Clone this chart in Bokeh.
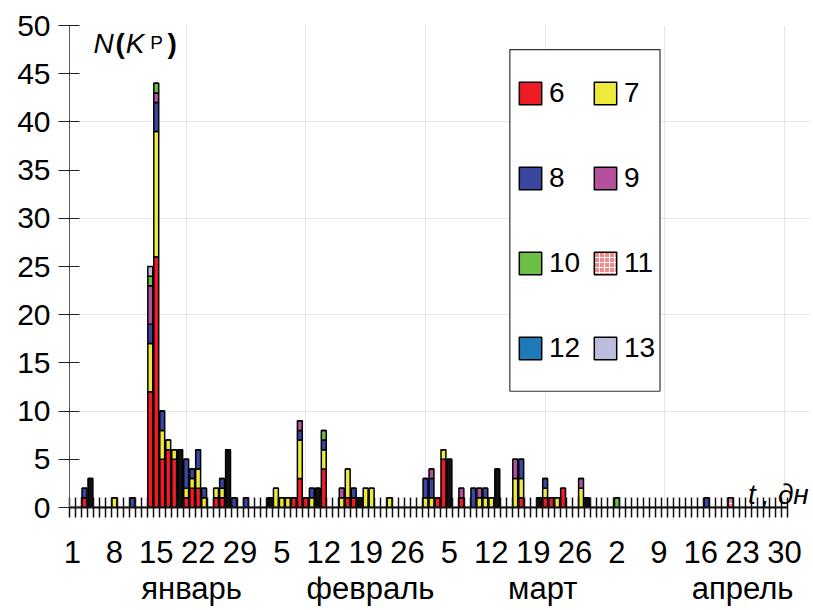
from bokeh.plotting import figure
from bokeh.models import (Range1d, FixedTicker, LinearAxis, Legend, LegendItem,
                          BoxAnnotation, Label, ColumnDataSource, CDSView, IndexFilter)
from bokeh.transform import stack
from bokeh.embed import file_html
from bokeh.resources import INLINE

# ---------------- data ----------------
days = list(range(1, 121))          # 1 Jan .. 30 Apr
tick_days = [1, 8, 15, 22, 29, 36, 43, 50, 57, 64, 71, 78, 85, 92, 99, 106, 113, 120]
tick_labels = ["1", "8", "15", "22", "29", "5", "12", "19", "26",
               "5", "12", "19", "26", "2", "9", "16", "23", "30"]
months = ["январь", "февраль", "март", "апрель"]
month_pos = [20.9, 50.8, 79.6, 113.0]

kp_levels = ["6", "7", "8", "9", "10", "11", "12", "13"]
kp6 = {3: 1, 14: 12, 15: 26, 16: 5, 17: 6, 18: 5, 20: 1, 21: 2, 22: 2, 25: 1, 26: 1,
       38: 1, 39: 3, 40: 1, 43: 4, 47: 1, 48: 1, 62: 1, 63: 5, 66: 1, 76: 1,
       80: 1, 81: 1, 83: 2}
kp7 = {8: 1, 14: 5, 15: 13, 16: 3, 17: 1, 18: 1, 20: 1, 21: 1, 22: 2, 23: 1, 25: 1,
       26: 1, 35: 2, 36: 1, 37: 1, 39: 4, 41: 1, 43: 2, 46: 1, 47: 3, 50: 2, 51: 2,
       54: 1, 60: 1, 61: 1, 63: 1, 69: 1, 70: 1, 71: 1, 75: 3, 76: 2, 80: 1, 82: 1, 86: 2}
kp8 = {3: 1, 11: 1, 14: 2, 15: 3, 16: 2, 20: 3, 21: 1, 22: 2, 23: 1, 26: 1, 28: 1,
       30: 1, 39: 1, 41: 1, 43: 1, 48: 1, 60: 2, 61: 2, 68: 2, 70: 1, 76: 2, 80: 1, 107: 1}
kp9 = {14: 4, 15: 1, 39: 1, 46: 1, 61: 1, 66: 1, 69: 1, 75: 2, 86: 1}
kp10 = {14: 1, 15: 1, 43: 1, 92: 1}
kp11 = {111: 1}
kp12 = {}
kp13 = {14: 1}
unlabeled = {4: 3, 19: 6, 27: 6, 34: 1, 42: 2, 49: 1, 64: 5, 72: 4, 79: 1, 87: 1}

series = [("u", unlabeled), ("6", kp6), ("7", kp7), ("8", kp8), ("9", kp9),
          ("10", kp10), ("11", kp11), ("12", kp12), ("13", kp13)]

colors = {"u": "#111111", "6": "#ee1c24", "7": "#eeea3c", "8": "#3a46a0", "9": "#b5509e",
          "10": "#6cbf45", "11": "#f08a8a", "12": "#1e7ab8", "13": "#bcbcdc"}

FONT = "Liberation Sans"

data = {"day": days}
for name, d in series:
    data["k" + name] = [d.get(x, 0) for x in days]
src = ColumnDataSource(data)

# frame runs a little past 30 April so the "t, дн" label fits; the axis itself stops at 30 April
p = figure(width=811, height=608, x_range=Range1d(0.5, 124.35), y_range=Range1d(0, 50),
           output_backend="svg", toolbar_location=None,
           x_axis_location=None, y_axis_location=None,
           min_border_left=69, min_border_right=1, min_border_top=25, min_border_bottom=98)
p.outline_line_color = None
p.background_fill_color = "white"
p.border_fill_color = "white"

renderers = {}
names = ["k" + n for n, _ in series]
for i, (name, d) in enumerate(series):
    idx = [j for j, x in enumerate(days) if d.get(x, 0) > 0]
    if not idx:   # empty series: keep every row (zero height) so its legend swatch is drawn
        idx = list(range(len(days)))
    kw = {}
    if name == "11":
        kw = dict(hatch_pattern="+", hatch_color="white", hatch_scale=5, hatch_weight=1)
    r = p.vbar(x="day", bottom=stack(*names[:i]), top=stack(*names[:i + 1]), width=0.82,
               source=src, view=CDSView(filter=IndexFilter(idx)),
               fill_color=colors[name], line_color="black", line_width=1.5, **kw)
    renderers[name] = r

# ---------------- axes ----------------
yaxis = LinearAxis(ticker=FixedTicker(ticks=list(range(0, 51, 5))),
                   major_tick_in=10, major_tick_out=11, minor_tick_in=0, minor_tick_out=0,
                   major_label_text_font=FONT, major_label_text_font_size="30px",
                   major_label_text_color="black", major_label_standoff=8,
                   axis_line_color="#555555", axis_line_width=1,
                   major_tick_line_color="#222222", major_tick_line_width=1.2)
p.add_layout(yaxis, "left")

xaxis = LinearAxis(ticker=FixedTicker(ticks=tick_days,
                                      minor_ticks=[x - 0.5 for x in days] + [120.5]),
                   bounds=(0.5, 120.5),
                   major_tick_in=0, major_tick_out=0, minor_tick_in=10, minor_tick_out=10,
                   major_label_overrides={d: l for d, l in zip(tick_days, tick_labels)},
                   major_label_text_font=FONT, major_label_text_font_size="31px",
                   major_label_text_color="black", major_label_standoff=23,
                   axis_line_color="#111111", axis_line_width=2,
                   minor_tick_line_color="#111111", minor_tick_line_width=1.5)
p.add_layout(xaxis, "below")

maxis = LinearAxis(ticker=FixedTicker(ticks=month_pos),
                   major_tick_in=0, major_tick_out=0, minor_tick_in=0, minor_tick_out=0,
                   major_label_overrides={d: l for d, l in zip(month_pos, months)},
                   major_label_text_font=FONT, major_label_text_font_size="31px",
                   major_label_text_color="black", major_label_standoff=5,
                   axis_line_color=None)
p.add_layout(maxis, "below")

# ---------------- legend ----------------
box = BoxAnnotation(left=74.1, right=99.2, bottom=12.06, top=47.5,
                    fill_color="white", fill_alpha=1, line_color="#333333", line_width=1.2,
                    line_alpha=1)
p.add_layout(box)

def make_legend(keys, loc):
    lg = Legend(items=[LegendItem(label=k, renderers=[renderers[k]]) for k in keys],
                location=loc, orientation="vertical",
                glyph_width=28, glyph_height=28, label_height=28,
                label_standoff=5, spacing=53, padding=0, margin=0,
                border_line_color=None, background_fill_alpha=0,
                label_text_font=FONT, label_text_font_size="28px",
                label_text_color="black")
    p.add_layout(lg, "center")

make_legend(["6", "8", "10", "12"], (447, 143))
make_legend(["7", "9", "11", "13"], (522, 143))

# ---------------- axis titles ----------------
def lab(x, y, t, size="28px", style="normal"):
    p.add_layout(Label(x=x, y=y, text=t, text_font=FONT, text_font_size=size,
                       text_font_style=style, text_color="black",
                       text_baseline="alphabetic", text_align="left"))

lab(4.5, 48.1, "N", style="italic")
lab(8.2, 48.1, "(", style="bold")
lab(9.9, 48.1, "K", style="italic")
lab(14.0, 48.2, "P", size="19px")
lab(16.9, 48.1, ")", style="bold")
lab(113.9, 1.34, "t", style="italic")
lab(116.2, 1.34, ",", style="italic")
lab(118.9, 1.34, "дн", style="italic")

open("out.html", "w").write(file_html(p, INLINE))
